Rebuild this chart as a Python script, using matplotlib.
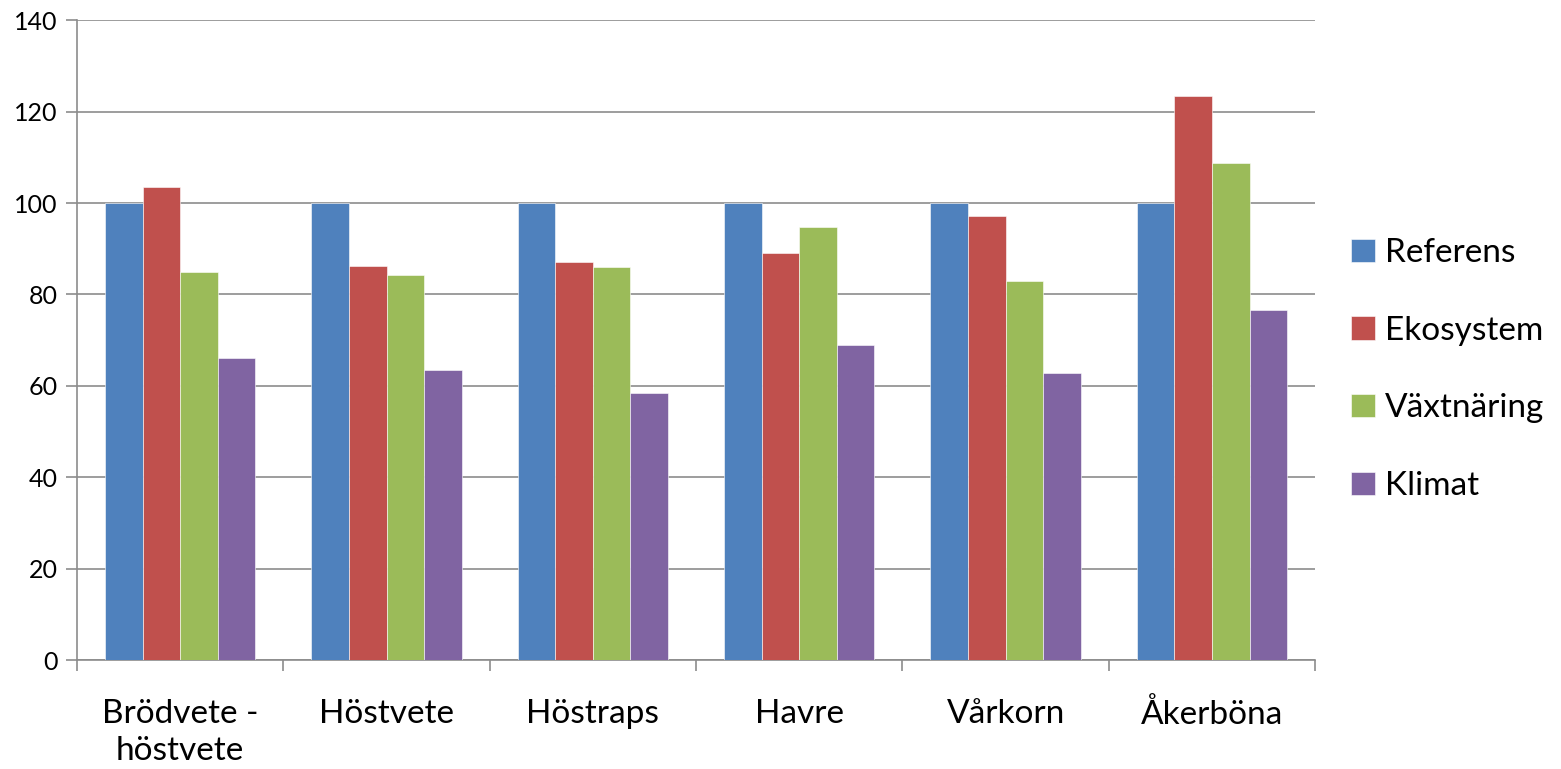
import numpy as np
import matplotlib.pyplot as plt

plt.rcParams['font.family'] = ['Lato', 'DejaVu Sans']

categories = ["Brödvete -\nhöstvete", "Höstvete", "Höstraps", "Havre", "Vårkorn", "Åkerböna"]
series = ["Referens", "Ekosystem", "Växtnäring", "Klimat"]
referens = [100, 100, 100, 100, 100, 100]
ekosystem = [103.5, 86.2, 87.1, 89.0, 97.1, 123.4]
vaxtnaring = [84.9, 84.2, 86.0, 94.8, 82.9, 108.7]
klimat = [66.1, 63.4, 58.4, 68.9, 62.8, 76.6]
colors = ["#4F81BD", "#C0504D", "#9BBB59", "#8064A2"]

fig = plt.figure(figsize=(15.61, 7.69), dpi=100)
ax = fig.add_axes([0.0493, 0.1417, 0.7932, 0.832])

x = np.arange(len(categories))
width = 0.182
for i, (name, vals) in enumerate(zip(series, [referens, ekosystem, vaxtnaring, klimat])):
    ax.bar(x + (i - 1.5) * width, vals, width, color=colors[i], label=name,
           edgecolor="white", linewidth=0.4, zorder=3)

ax.set_xlim(-0.5, len(categories) - 0.5)
ax.set_ylim(0, 140)
ax.set_yticks(range(0, 141, 20))
ax.yaxis.grid(True, color="#8c8c8c", linewidth=1.2, zorder=0)
ax.tick_params(axis="y", labelsize=18, length=8, width=1.2, color="#8c8c8c", pad=6)

ax.set_xticks(x)
ax.set_xticklabels(categories, fontsize=24, linespacing=1.3)
ax.set_xticks(np.arange(-0.5, len(categories)), minor=True)
ax.tick_params(axis="x", which="major", length=0, pad=28)
ax.tick_params(axis="x", which="minor", length=8, width=1.2, color="#8c8c8c")

for side in ["top", "right"]:
    ax.spines[side].set_visible(False)
for side in ["left", "bottom"]:
    ax.spines[side].set_color("#8c8c8c")
    ax.spines[side].set_linewidth(1.2)

ax.legend(loc="center left", bbox_to_anchor=(1.005, 0.454), frameon=False, fontsize=24,
          handlelength=0.7, handleheight=0.7, handletextpad=0.3, labelspacing=1.43)

fig.savefig("out.png", dpi=100)
